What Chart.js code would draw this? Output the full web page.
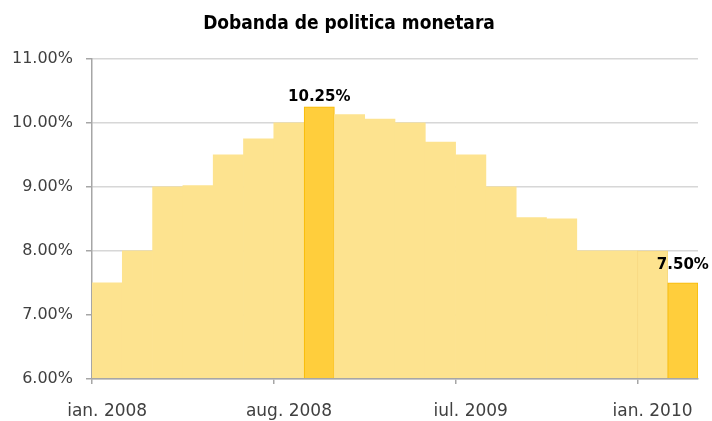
<!DOCTYPE html>
<html>
<head>
<meta charset="utf-8">
<script src="https://cdn.jsdelivr.net/npm/chart.js@4"></script>
<style>
  html, body { margin: 0; padding: 0; background: #fff; }
  #wrap { width: 712px; height: 421px; }
</style>
</head>
<body>
<div id="wrap"><canvas id="rateChart"></canvas></div>
<script>
const categories = [
  "ian. 2008", "feb. 2008", "mar. 2008", "apr. 2008", "mai. 2008", "iun. 2008",
  "aug. 2008", "sep. 2008", "oct. 2008", "nov. 2008", "ian. 2009", "feb. 2009",
  "iul. 2009", "aug. 2009", "sep. 2009", "oct. 2009", "nov. 2009", "dec. 2009",
  "ian. 2010", "feb. 2010"
];
const rates = [
  7.50, 8.00, 9.00, 9.02, 9.50, 9.75, 10.00, 10.25, 10.13, 10.06,
  10.00, 9.70, 9.50, 9.00, 8.52, 8.50, 8.00, 8.00, 8.00, 7.50
];
const highlighted = [7, 19];
const labelEvery = 6;

const light = "#FDE38F";
const strong = "#FFCE3C";

const barLabels = {
  id: "barLabels",
  afterDatasetsDraw(chart) {
    const ctx = chart.ctx;
    const meta = chart.getDatasetMeta(0);
    ctx.save();
    ctx.font = "bold 15px 'DejaVu Sans'";
    ctx.fillStyle = "#000";
    ctx.textAlign = "center";
    ctx.textBaseline = "alphabetic";
    highlighted.forEach((i, n) => {
      const bar = meta.data[i];
      const lift = n === 0 ? 6 : 14;
      ctx.fillText(rates[i].toFixed(2) + "%", bar.x, bar.y - lift);
    });
    ctx.restore();
  }
};

const canvas = document.getElementById("rateChart");
new Chart(canvas.getContext("2d"), {
  type: "bar",
  data: {
    labels: categories,
    datasets: [{
      data: rates,
      backgroundColor: rates.map((v, i) => highlighted.includes(i) ? strong : light),
      borderColor: rates.map((v, i) => highlighted.includes(i) ? "#F7B900" : (i === 18 ? "#F8D980" : light)),
      borderWidth: rates.map((v, i) => (highlighted.includes(i) || i === 18) ? 1 : 0),
      categoryPercentage: 1,
      barPercentage: 1
    }]
  },
  options: {
    responsive: true,
    maintainAspectRatio: false,
    animation: false,
    layout: { padding: { left: 0, right: 14, top: 0, bottom: 0 } },
    plugins: {
      legend: { display: false },
      tooltip: { enabled: false },
      title: {
        display: true,
        text: "Dobanda de politica monetara",
        color: "#000",
        font: { family: "'DejaVu Sans Condensed', 'DejaVu Sans'", size: 19, weight: "bold" },
        padding: { top: 13, bottom: 23 }
      }
    },
    scales: {
      x: {
        afterFit: s => { s.height = 42; },
        border: { color: "#A6A6A6", width: 1.5, z: 2 },
        grid: {
          offset: true,
          drawOnChartArea: false,
          tickLength: 5,
          color: c => (c.index % labelEvery === 0 ? "#A6A6A6" : "rgba(0,0,0,0)"),
          lineWidth: 1.5
        },
        ticks: {
          autoSkip: false,
          maxRotation: 0,
          padding: 17,
          color: "#404040",
          font: { family: "'DejaVu Sans'", size: 17 },
          callback: (v, i) => (i % labelEvery === 0 ? categories[i] : "")
        }
      },
      y: {
        min: 6,
        max: 11,
        afterFit: s => { s.width = 92; },
        border: { color: "#A6A6A6", width: 1.5 },
        grid: {
          color: "#E8E8E8",
          lineWidth: 1.5,
          tickLength: 6,
          tickColor: "#A6A6A6"
        },
        ticks: {
          stepSize: 1,
          padding: 13,
          color: "#404040",
          font: { family: "'DejaVu Sans'", size: 16 },
          callback: v => v.toFixed(2) + "%"
        }
      },
      yOver: {
        position: "left",
        min: 6,
        max: 11,
        z: 1,
        afterFit: s => { s.width = 0; },
        border: { display: false },
        grid: { color: "rgba(0,0,0,0.07)", lineWidth: 1.5, drawTicks: false },
        ticks: { display: false, stepSize: 1 }
      }
    }
  },
  plugins: [barLabels]
});
</script>
</body>
</html>
